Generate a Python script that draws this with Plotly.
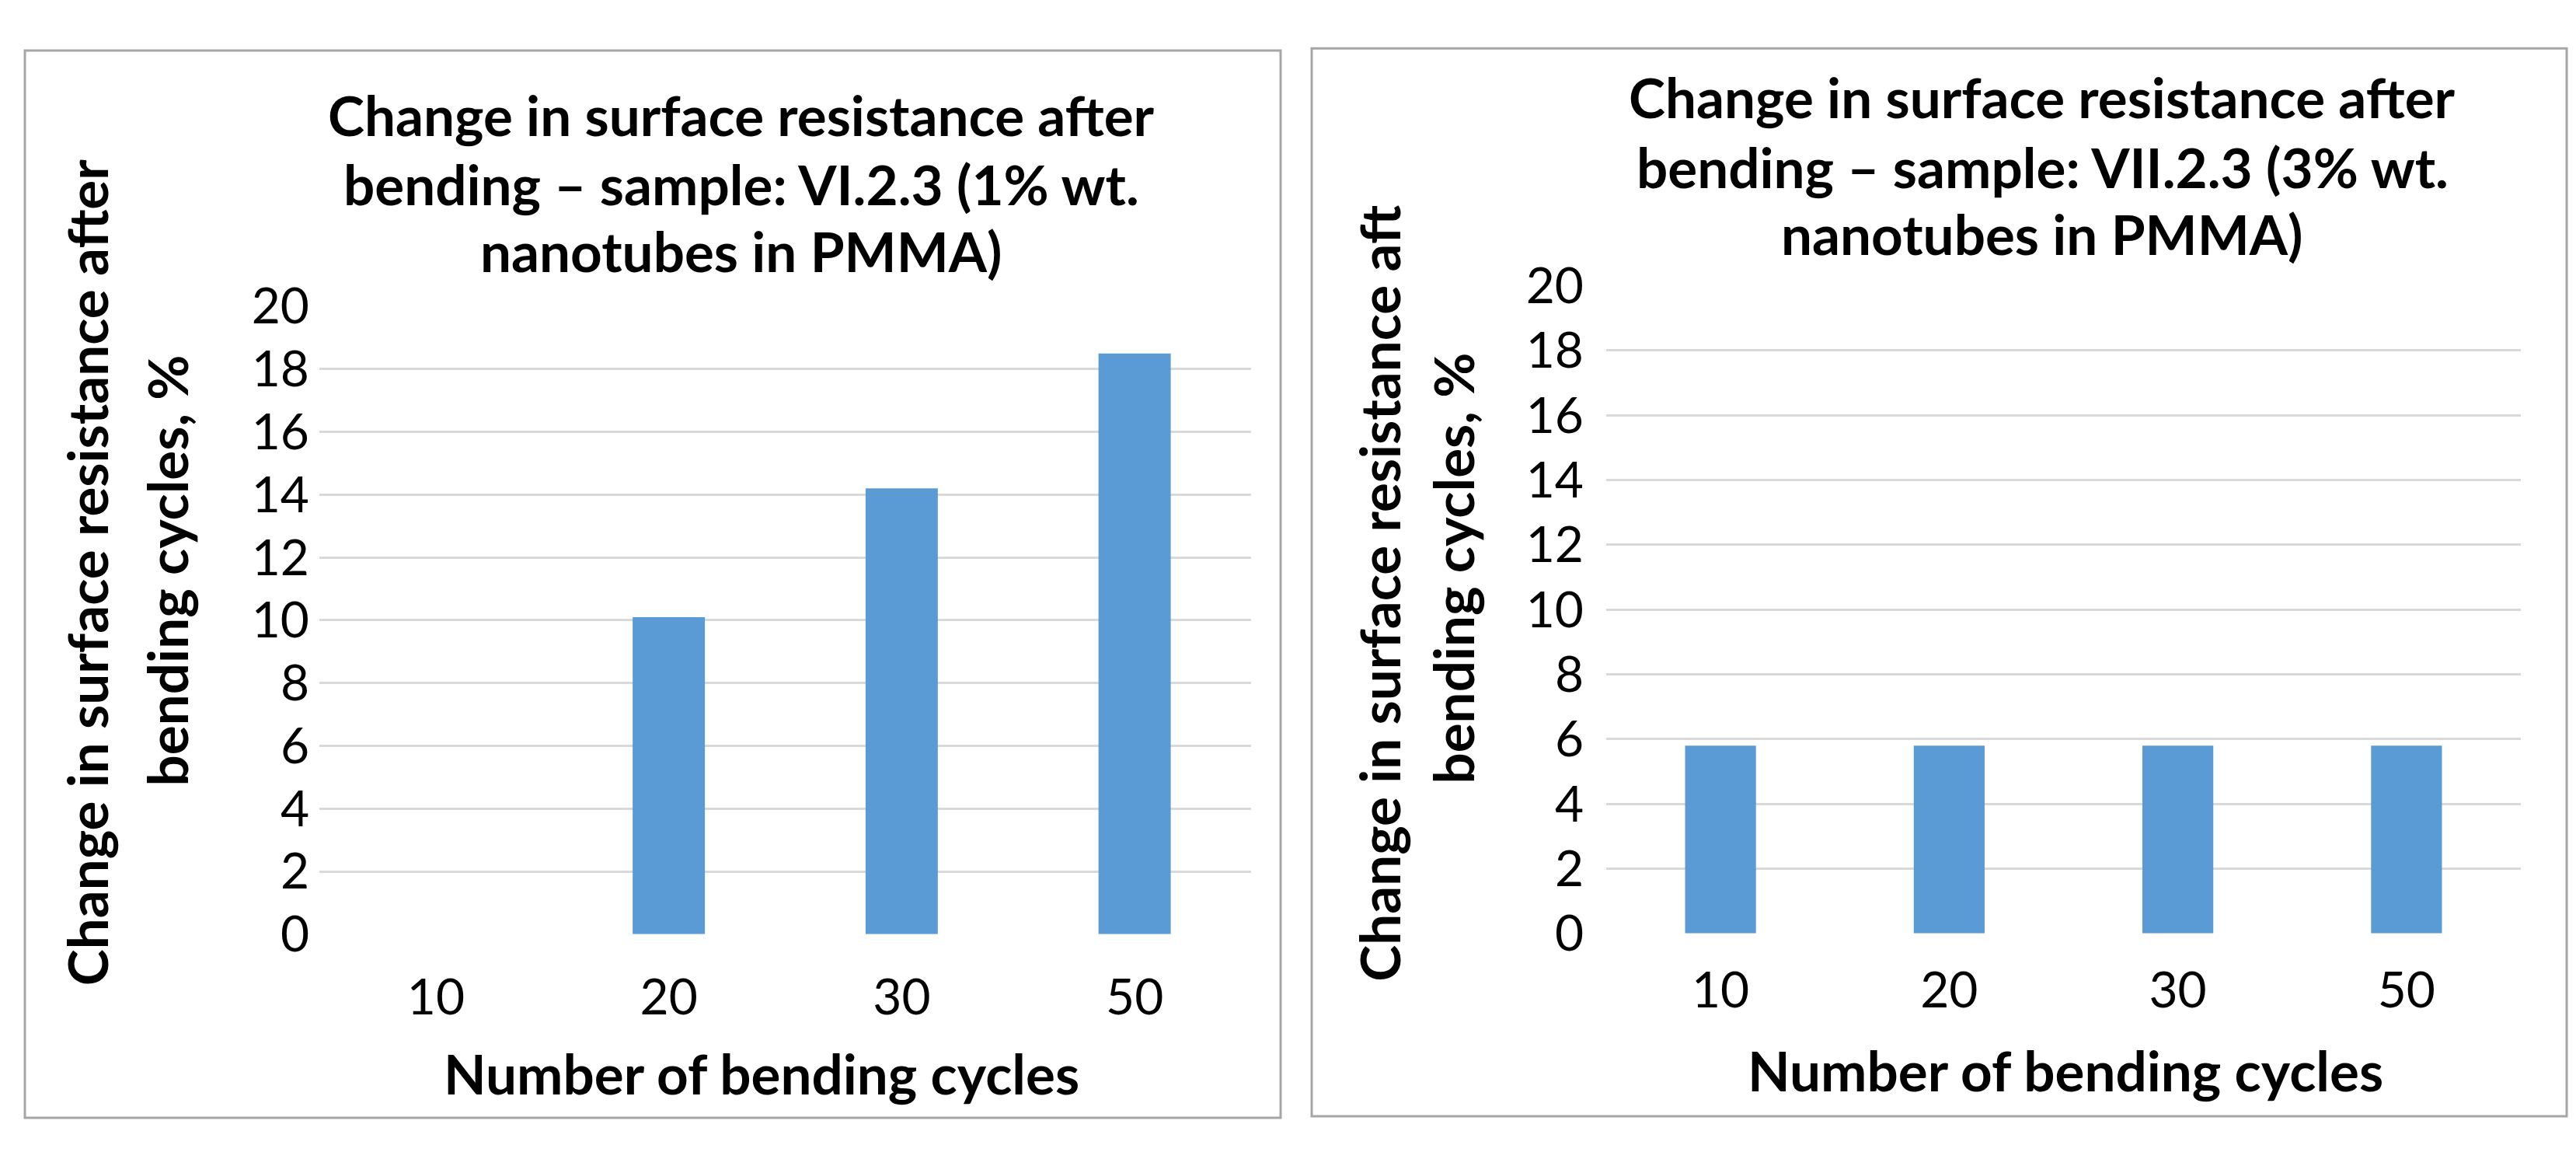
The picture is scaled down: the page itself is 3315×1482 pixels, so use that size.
import plotly.graph_objects as go

W, H = 3315, 1482

categories = ["10", "20", "30", "50"]
left_values = [0, 10.1, 14.2, 18.5]
right_values = [5.8, 5.8, 5.8, 5.8]
y_ticks = [0, 2, 4, 6, 8, 10, 12, 14, 16, 18, 20]

left_title = ["Change in surface resistance after",
              "bending – sample: VI.2.3 (1% wt.",
              "nanotubes in PMMA)"]
right_title = ["Change in surface resistance after",
               "bending – sample: VII.2.3 (3% wt.",
               "nanotubes in PMMA)"]
left_ytitle = ["Change in surface resistance after", "bending cycles, %"]
right_ytitle = ["Change in surface resistance aft", "bending cycles, %"]
x_title = "Number of bending cycles"

BAR = "#5B9BD5"
GRID = "#D9D9D9"
FONT = "Lato"
TICK_SIZE = 64
BOLD_SIZE = 71


def px(x):
    return x / W


def py(y):
    return 1 - y / H


fig = go.Figure()
fig.add_trace(go.Bar(x=categories, y=left_values, marker=dict(color=BAR, line=dict(width=0)),
                     xaxis="x", yaxis="y", showlegend=False))
fig.add_trace(go.Bar(x=categories, y=right_values, marker=dict(color=BAR, line=dict(width=0)),
                     xaxis="x2", yaxis="y2", showlegend=False))

axis_common_y = dict(range=[0, 20], tickvals=y_ticks, showgrid=True, gridcolor=GRID, gridwidth=3,
                     zeroline=False, showline=False, ticks="",
                     tickfont=dict(family=FONT, size=TICK_SIZE, color="#000000"))
axis_common_x = dict(type="category", categoryorder="array", categoryarray=categories,
                     showgrid=False, zeroline=False, showline=False, ticks="",
                     tickfont=dict(family=FONT, size=TICK_SIZE, color="#000000"))

fig.update_layout(
    width=W, height=H,
    margin=dict(l=0, r=0, t=0, b=0),
    paper_bgcolor="white", plot_bgcolor="white",
    bargap=0.69,
    xaxis=dict(domain=[px(403), px(1602)], anchor="y", ticklabelstandoff=38, **axis_common_x),
    yaxis=dict(domain=[py(1216), py(364)], anchor="x", ticklabelstandoff=12, **axis_common_y),
    xaxis2=dict(domain=[px(2059), px(3236)], anchor="y2", ticklabelstandoff=30, **axis_common_x),
    yaxis2=dict(domain=[py(1215), py(336)], anchor="x2", ticklabelstandoff=28, **axis_common_y),
)

shapes = [
    dict(type="rect", xref="paper", yref="paper", x0=px(24), x1=px(1640), y0=py(1465), y1=py(17),
         line=dict(color="#A6A6A6", width=3), fillcolor="rgba(0,0,0,0)", layer="below"),
    dict(type="rect", xref="paper", yref="paper", x0=px(1680), x1=px(3295), y0=py(1463), y1=py(14),
         line=dict(color="#A6A6A6", width=3), fillcolor="rgba(0,0,0,0)", layer="below"),
]
fig.update_layout(shapes=shapes)

ann = []
bold = dict(family=FONT, size=BOLD_SIZE, color="#000000")


def text_line(txt, x, y, angle=0):
    ann.append(dict(text="<b>" + txt + "</b>", x=px(x), y=py(y), xref="paper", yref="paper",
                    xanchor="center", yanchor="middle", showarrow=False, font=bold, textangle=angle))


for i, t in enumerate(left_title):
    text_line(t, 946, [104, 198, 288][i])
for i, t in enumerate(right_title):
    text_line(t, 2620, [80, 175, 265][i])

text_line(left_ytitle[0], 103, 725, -90)
text_line(left_ytitle[1], 206, 723, -90)
text_line(right_ytitle[0], 1767, 754, -90)
text_line(right_ytitle[1], 1862, 720, -90)

text_line(x_title, 972, 1404)
text_line(x_title, 2650, 1400)

fig.update_layout(annotations=ann)

fig.write_html("out.html")
